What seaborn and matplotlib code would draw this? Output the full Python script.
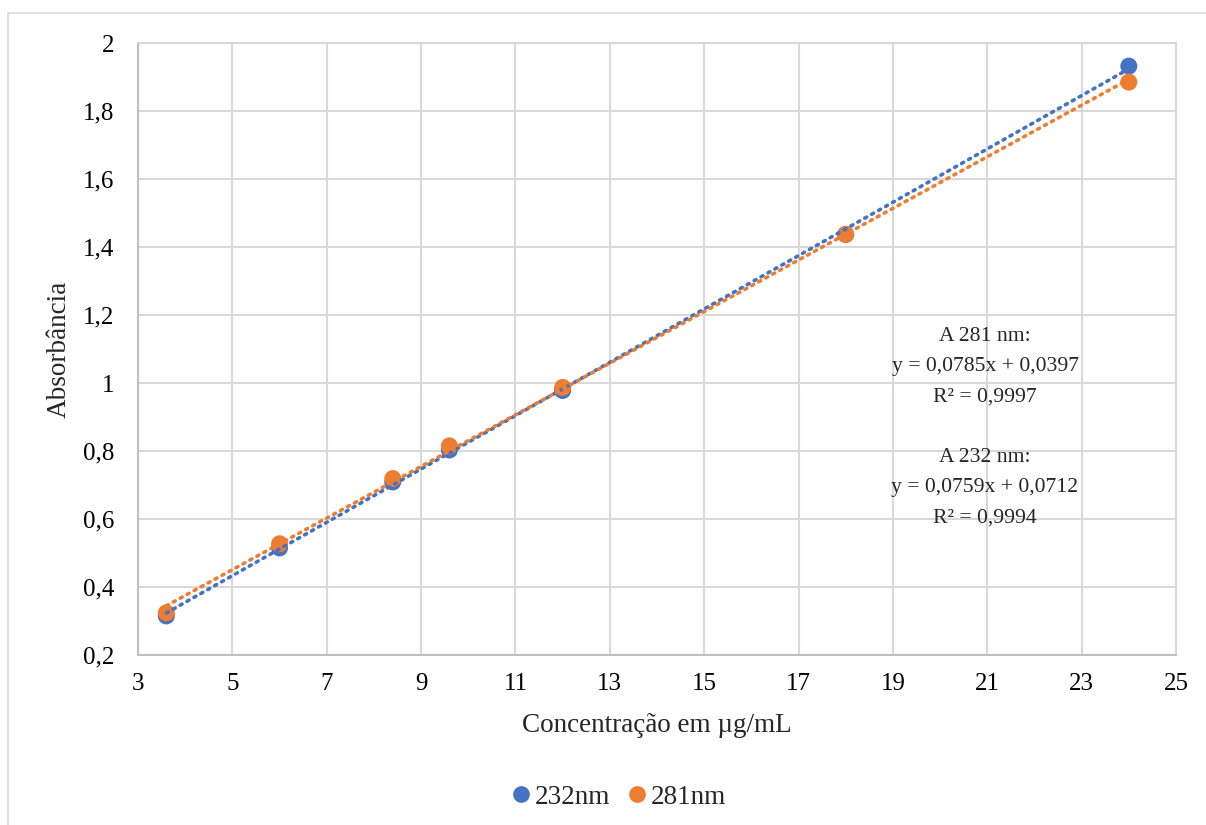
import numpy as np
import pandas as pd
import matplotlib
matplotlib.use("Agg")
import matplotlib.pyplot as plt
import seaborn as sns
from matplotlib.patches import Rectangle

conc = [3.6, 6.0, 8.4, 9.6, 12.0, 18.0, 24.0]
abs_232 = [0.315, 0.515, 0.709, 0.803, 0.978, 1.437, 1.932]
abs_281 = [0.324, 0.527, 0.719, 0.815, 0.987, 1.437, 1.885]
series_names = ["232nm", "281nm"]
colors = ["#4472C4", "#ED7D31"]
xticks = [3, 5, 7, 9, 11, 13, 15, 17, 19, 21, 23, 25]
yticks = [0.2, 0.4, 0.6, 0.8, 1.0, 1.2, 1.4, 1.6, 1.8, 2.0]
ytick_labels = ["0,2", "0,4", "0,6", "0,8", "1", "1,2", "1,4", "1,6", "1,8", "2"]
annot = "A 281 nm:\ny = 0,0785x + 0,0397\nR² = 0,9997\n\nA 232 nm:\ny = 0,0759x + 0,0712\nR² = 0,9994"

sns.set_theme(style="whitegrid")
plt.rcParams['font.family'] = ['Liberation Serif', 'DejaVu Serif']

df = pd.DataFrame({
    "conc": conc * 2,
    "abs": abs_232 + abs_281,
    "serie": [series_names[0]] * len(conc) + [series_names[1]] * len(conc),
})

fig = plt.figure(figsize=(12.06, 8.25), dpi=100)
fig.patches.append(Rectangle((8 / 1206, -0.01), 1.01, 1 - 13 / 825 + 0.01,
                             transform=fig.transFigure, fill=False,
                             edgecolor="#d9d9d9", linewidth=1.2, zorder=0))
ax = fig.add_axes([138 / 1206, 1 - 655 / 825, (1176 - 138) / 1206, (655 - 43) / 825])

sns.scatterplot(data=df, x="conc", y="abs", hue="serie", palette=colors,
                s=150, edgecolor="none", ax=ax, zorder=3, legend=False)
for name, col in zip(series_names, colors):
    sub = df[df["serie"] == name]
    sns.regplot(data=sub, x="conc", y="abs", scatter=False, ci=None, ax=ax,
                line_kws=dict(color=col, linestyle=(0, (0.6, 1.6)), linewidth=2.6,
                              dash_capstyle="round", zorder=4))

ax.set_xlim(3, 25)
ax.set_ylim(0.2, 2.0)
ax.set_xticks(xticks)
ax.set_xticklabels([str(t) for t in xticks])
ax.set_yticks(yticks)
ax.set_yticklabels(ytick_labels)
ax.grid(True, color="#d9d9d9", linewidth=1.5)
for s in ax.spines.values():
    s.set_visible(True)
    s.set_color("#d9d9d9")
    s.set_linewidth(1.5)
ax.spines["left"].set_color("#bfbfbf")
ax.spines["bottom"].set_color("#bfbfbf")
ax.tick_params(axis="x", labelsize=18, colors="black", length=0, pad=13)
ax.tick_params(axis="y", labelsize=18, colors="black", length=0, pad=17)
ax.set_xlabel("Concentração em µg/mL", fontsize=19.5, labelpad=13)
ax.set_ylabel("Absorbância", fontsize=19.5, labelpad=8)

ax.text(985 / 1206, 1 - 427 / 825, annot, transform=fig.transFigure,
        ha="center", va="center", fontsize=15.6, linespacing=1.8)

handles = [plt.Line2D([], [], marker="o", linestyle="none", color=c, markersize=11)
           for c in colors]
fig.legend(handles, series_names, loc="center", bbox_to_anchor=(618 / 1206, 1 - 797 / 825),
           ncol=2, frameon=False, fontsize=19.5, handlelength=0.8,
           handletextpad=0.1, columnspacing=0.6)

fig.savefig("out.png", dpi=100)
